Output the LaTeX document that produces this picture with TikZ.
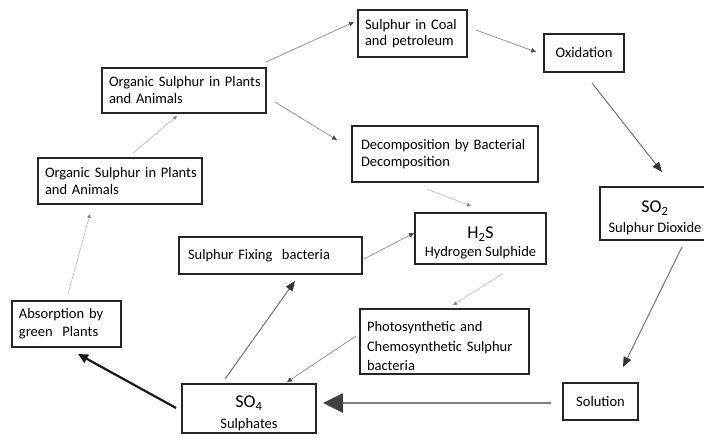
\documentclass[tikz,border=0pt]{standalone}
\usepackage{fontspec}
\setmainfont{Carlito}
\usetikzlibrary{arrows.meta,calc}
\newcommand\chemsize{\fontsize{18}{20}\selectfont}
\newcommand\oneline[1]{\mbox{#1}}

\begin{document}
\begin{tikzpicture}[x=1pt,y=-1pt,
  box/.style={draw=black!85, line width=1.9pt, inner sep=0pt, font=\fontsize{14.5}{17}\selectfont},
  lbox/.style={box, align=left, inner xsep=6pt},
  cbox/.style={box, align=center},
  thin/.style={draw=black!45, line width=0.7pt, arrows={-{Triangle[length=5pt,width=4.5pt,color=black!70]}}},
  faint/.style={draw=black!28, line width=0.6pt, arrows={-{Triangle[length=4pt,width=3.5pt,color=black!50]}}},
  medium/.style={draw=black!55, line width=1pt, arrows={-{Triangle[length=10pt,width=8pt,color=black!80]}}},
  heavy/.style={draw=black!50, line width=2.6pt, arrows={-{Triangle[length=20pt,width=19pt,color=black!75]}}},
  dark/.style={draw=black!90, line width=2.2pt, arrows={-{Triangle[length=10pt,width=9pt,color=black!90]}}}
]
\useasboundingbox (0,0) rectangle (704,437);

% boxes of the cycle
\node[lbox, minimum width=164pt, minimum height=45pt, text width=150pt] (orgA) at (184,90.5)
  {\oneline{Organic Sulphur in Plants}\\and Animals};
\node[lbox, minimum width=164pt, minimum height=46pt, text width=150pt] (orgB) at (120,181)
  {\oneline{Organic Sulphur in Plants}\\and Animals};
\node[lbox, minimum width=109pt, minimum height=47pt, text width=95pt, inner xsep=7pt,
      font=\fontsize{14.5}{15.5}\selectfont] (coal) at (412.5,33.5)
  {\oneline{Sulphur in Coal}\\and petroleum};
\node[cbox, minimum width=80pt, minimum height=38pt] (oxid) at (584,53) {Oxidation};
\node[lbox, minimum width=186pt, minimum height=56pt, text width=168pt, inner xsep=9pt] (decomp) at (445,154)
  {\oneline{Decomposition by Bacterial}\\Decomposition};
\node[cbox, minimum width=110pt, minimum height=53pt] (so2) at (655,213.5)
  {\rule{0pt}{21pt}{\chemsize SO\textsubscript{2}}\\[3pt]Sulphur Dioxide};
\node[cbox, minimum width=131pt, minimum height=51pt] (h2s) at (480.5,238.5)
  {\rule{0pt}{21pt}{\chemsize H\textsubscript{2}S}\\[1pt]Hydrogen Sulphide};
\node[lbox, minimum width=183pt, minimum height=37pt, text width=165pt, inner xsep=9pt] (fix) at (270.5,255.5)
  {\oneline{Sulphur Fixing\ \ bacteria}};
\node[lbox, minimum width=169pt, minimum height=65pt, text width=155pt, inner xsep=7pt,
      font=\fontsize{14.5}{19.5}\selectfont] (photo) at (444.5,341.5)
  {\rule{0pt}{20pt}\oneline{Photosynthetic and}\\\oneline{Chemosynthetic Sulphur}\\bacteria};
\node[cbox, minimum width=75pt, minimum height=37pt] (sol) at (600.5,401.5) {Solution};
\node[cbox, minimum width=134pt, minimum height=49pt] (so4) at (249,408.5)
  {\rule{0pt}{22pt}{\chemsize SO\textsubscript{4}}\\[4pt]Sulphates};
\node[lbox, minimum width=109pt, minimum height=46pt, text width=95pt, inner xsep=7pt,
      font=\fontsize{14.5}{18}\selectfont] (abs) at (66.5,324)
  {\oneline{Absorption by}\\green\ \ Plants};

% connectors
\draw[faint]  ($(abs.north)+(1.5,-6)$)      -- ($(orgB.south)+(-30,9)$);
\draw[faint]  ($(orgB.north)+(13,-4)$)      -- ($(orgA.south)+(-7,2)$);
\draw[thin]   ($(orgA.north east)+(-1,-5)$) -- ($(coal.west)+(-3,-11.5)$);
\draw[thin]   ($(orgA.east)+(8,11.5)$)      -- ($(decomp.west)+(-14,-14)$);
\draw[thin]   ($(coal.east)+(8,-3.5)$)      -- ($(oxid.west)+(-7,-1)$);
\draw[medium] ($(oxid.south)+(8,10)$)       -- ($(so2.north)+(7,-14)$);
\draw[faint]  ($(decomp.south)+(-18,6)$)    -- ($(h2s.north)+(-9.5,-6)$);
\draw[medium] ($(so2.south)+(27,6)$)        -- ($(sol.north)+(22.5,-15)$);
\draw[heavy]  ($(sol.west)+(-11,1.5)$)      -- ($(so4.east)+(6,-5.5)$);
\draw[dark]   ($(so4.west)+(-5,-0.5)$)      -- ($(abs.south)+(11.5,6)$);
\draw[medium] ($(so4.north)+(-24,-4)$)      -- ($(fix.south)+(24.5,6)$);
\draw[thin]   ($(fix.east)+(1,3.5)$)        -- ($(h2s.west)+(0,-5.5)$);
\draw[faint]  ($(h2s.south)+(21.5,9)$)      -- ($(photo.north)+(8.5,-3)$);
\draw[thin]   ($(photo.west)+(-3,-5.5)$)    -- ($(so4.north)+(38,-1)$);
\end{tikzpicture}
\end{document}
